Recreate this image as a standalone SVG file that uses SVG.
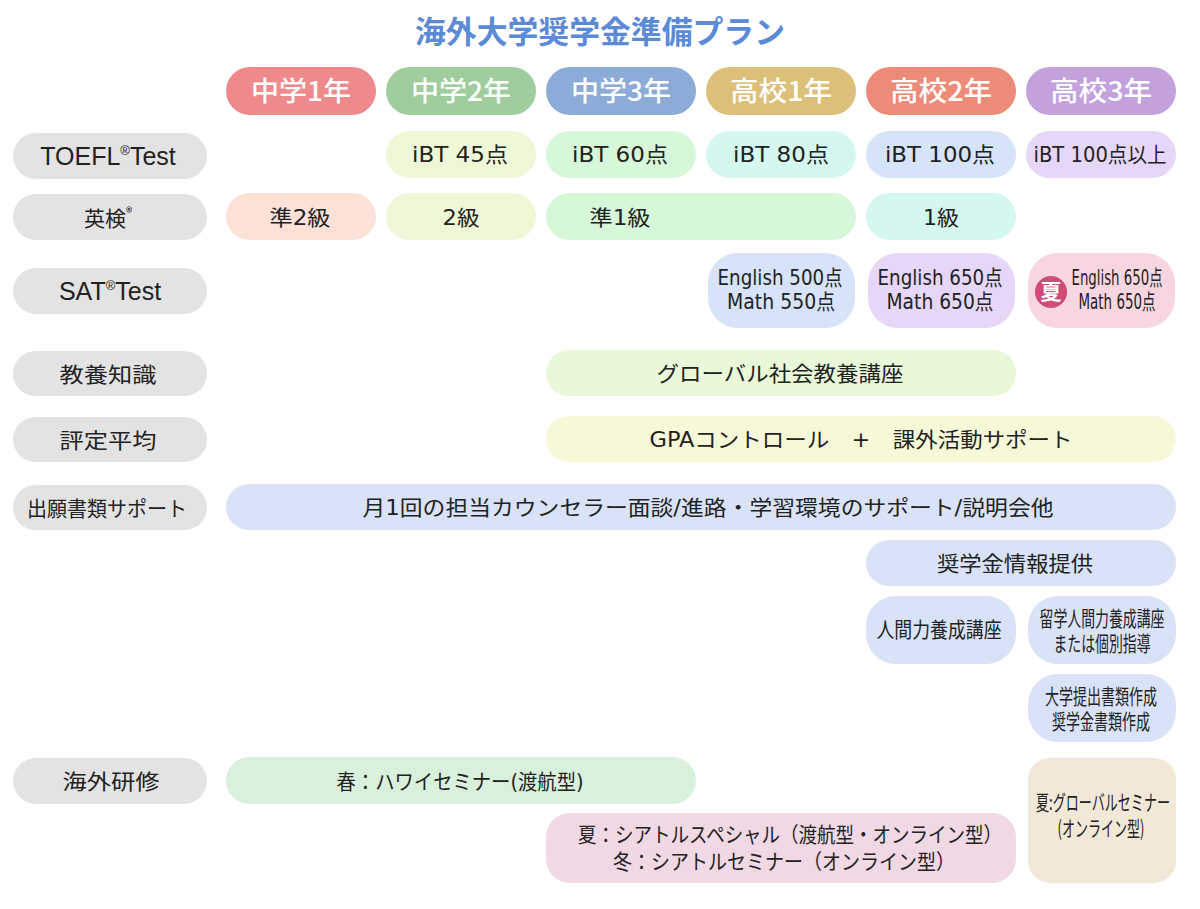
<svg xmlns="http://www.w3.org/2000/svg" width="1200" height="909" viewBox="0 0 1200 909">
<style>
text{font-family:"DejaVu Sans","Noto Sans CJK JP",sans-serif;fill:#222;text-anchor:middle;font-size:21px}
.jp{font-family:"Noto Sans CJK JP",sans-serif}
.lat{font-family:"Liberation Sans","Noto Sans CJK JP",sans-serif;font-size:25px}
.title{font-family:"Noto Sans CJK JP",sans-serif;font-size:31px;font-weight:bold;fill:#5b8ad6}
.hd{font-family:"Noto Sans CJK JP",sans-serif;fill:#fff;font-size:27px;font-weight:500}
.lbl{fill:#e3e3e3}
.sup{font-size:13px}
</style>
<rect width="1200" height="909" fill="#fff"/>
<text class="title" x="600" y="43" textLength="370" lengthAdjust="spacingAndGlyphs">海外大学奨学金準備プラン</text>

<g id="headers">
<g id="h1"><rect x="226" y="67" width="150" height="48" rx="24" fill="#ee8a8c"/><text class="hd" x="301" y="101" textLength="100" lengthAdjust="spacingAndGlyphs">中学1年</text></g>
<g id="h2"><rect x="386" y="67" width="150" height="48" rx="24" fill="#9fcd9e"/><text class="hd" x="461" y="101" textLength="100" lengthAdjust="spacingAndGlyphs">中学2年</text></g>
<g id="h3"><rect x="546" y="67" width="150" height="48" rx="24" fill="#8cabd6"/><text class="hd" x="621" y="101" textLength="100" lengthAdjust="spacingAndGlyphs">中学3年</text></g>
<g id="h4"><rect x="706" y="67" width="150" height="48" rx="24" fill="#dcbf79"/><text class="hd" x="781" y="101" textLength="102" lengthAdjust="spacingAndGlyphs">高校1年</text></g>
<g id="h5"><rect x="866" y="67" width="150" height="48" rx="24" fill="#ed8b79"/><text class="hd" x="941" y="101" textLength="102" lengthAdjust="spacingAndGlyphs">高校2年</text></g>
<g id="h6"><rect x="1026" y="67" width="150" height="48" rx="24" fill="#c2a1dc"/><text class="hd" x="1101" y="101" textLength="102" lengthAdjust="spacingAndGlyphs">高校3年</text></g>
</g>

<g id="labels">
<g id="l-toefl"><rect class="lbl" x="13" y="133" width="194" height="46" rx="23"/><text class="lat" x="108" y="165">TOEFL<tspan class="sup" dy="-10">®</tspan><tspan dy="10">Test</tspan></text></g>
<g id="l-eiken"><rect class="lbl" x="13" y="194" width="194" height="46" rx="23"/><text class="jp" x="108" y="226" font-size="24">英検<tspan class="sup" dy="-9">®</tspan></text></g>
<g id="l-sat"><rect class="lbl" x="13" y="268" width="194" height="46" rx="23"/><text class="lat" x="110" y="300">SAT<tspan class="sup" dy="-10">®</tspan><tspan dy="10">Test</tspan></text></g>
<g id="l-kyoyo"><rect class="lbl" x="13" y="351" width="194" height="45" rx="22.5"/><text class="jp" x="108" y="382" font-size="24" textLength="97" lengthAdjust="spacingAndGlyphs">教養知識</text></g>
<g id="l-hyotei"><rect class="lbl" x="13" y="417" width="194" height="45" rx="22.5"/><text class="jp" x="108" y="448" font-size="24" textLength="97" lengthAdjust="spacingAndGlyphs">評定平均</text></g>
<g id="l-shutsugan"><rect class="lbl" x="13" y="485" width="194" height="45" rx="22.5"/><text class="jp" x="107" y="516" font-size="22" textLength="160" lengthAdjust="spacingAndGlyphs">出願書類サポート</text></g>
<g id="l-kenshu"><rect class="lbl" x="13" y="758" width="194" height="46" rx="23"/><text class="jp" x="111" y="789" font-size="24" textLength="97" lengthAdjust="spacingAndGlyphs">海外研修</text></g>
</g>

<g id="toefl">
<g id="t2"><rect x="386" y="131" width="150" height="47" rx="23.5" fill="#eff8d6"/><text x="460" y="162" textLength="96" lengthAdjust="spacingAndGlyphs">iBT 45点</text></g>
<g id="t3"><rect x="546" y="131" width="150" height="47" rx="23.5" fill="#d6f8d8"/><text x="620" y="162" textLength="96" lengthAdjust="spacingAndGlyphs">iBT 60点</text></g>
<g id="t4"><rect x="706" y="131" width="150" height="47" rx="23.5" fill="#d4f8f0"/><text x="781" y="162" textLength="96" lengthAdjust="spacingAndGlyphs">iBT 80点</text></g>
<g id="t5"><rect x="866" y="131" width="150" height="47" rx="23.5" fill="#d6e4f8"/><text x="940" y="162" textLength="110" lengthAdjust="spacingAndGlyphs">iBT 100点</text></g>
<g id="t6"><rect x="1026" y="131" width="150" height="47" rx="23.5" fill="#e6d6f8"/><text x="1100" y="162" font-size="19" textLength="133" lengthAdjust="spacingAndGlyphs">iBT 100点以上</text></g>
</g>

<g id="eiken">
<g id="e1"><rect x="226" y="193" width="150" height="47" rx="23.5" fill="#fbe1d6"/><text x="300" y="225" textLength="61" lengthAdjust="spacingAndGlyphs">準2級</text></g>
<g id="e2"><rect x="386" y="193" width="150" height="47" rx="23.5" fill="#eff8d6"/><text x="461" y="225" textLength="37" lengthAdjust="spacingAndGlyphs">2級</text></g>
<g id="e3"><rect x="546" y="193" width="310" height="47" rx="23.5" fill="#d6f8d8"/><text x="620" y="225" textLength="61" lengthAdjust="spacingAndGlyphs">準1級</text></g>
<g id="e5"><rect x="866" y="193" width="150" height="47" rx="23.5" fill="#d4f8f0"/><text x="941" y="225" textLength="36" lengthAdjust="spacingAndGlyphs">1級</text></g>
</g>

<g id="sat">
<g id="s4"><rect x="708" y="253" width="147" height="75" rx="30" fill="#d6e3f8"/><text x="780" y="285" font-size="18" textLength="125" lengthAdjust="spacingAndGlyphs">English 500点</text><text x="781" y="309" font-size="18" textLength="108" lengthAdjust="spacingAndGlyphs">Math 550点</text></g>
<g id="s5"><rect x="868" y="253" width="147" height="75" rx="30" fill="#e6d6f8"/><text x="940" y="285" font-size="18" textLength="125" lengthAdjust="spacingAndGlyphs">English 650点</text><text x="940" y="309" font-size="18" textLength="107" lengthAdjust="spacingAndGlyphs">Math 650点</text></g>
<g id="s6"><rect x="1028" y="253" width="147" height="75" rx="30" fill="#f8d6e0"/><circle cx="1051" cy="292" r="16" fill="#d14b77"/><text class="jp" x="1051" y="299" font-size="19" font-weight="bold" style="fill:#fff">夏</text><text x="1117" y="285" font-size="15" textLength="91" lengthAdjust="spacingAndGlyphs">English 650点</text><text x="1117" y="309" font-size="15" textLength="77" lengthAdjust="spacingAndGlyphs">Math 650点</text></g>
</g>

<g id="kyoyo"><rect x="546" y="350" width="470" height="46" rx="23" fill="#e8f8d8"/><text class="jp" x="780" y="381" font-size="22" textLength="247" lengthAdjust="spacingAndGlyphs">グローバル社会教養講座</text></g>

<g id="hyotei"><rect x="546" y="416" width="630" height="46" rx="23" fill="#f6f8d8"/><text x="861" y="447" font-size="22" textLength="423" lengthAdjust="spacingAndGlyphs" xml:space="preserve">GPAコントロール　+　課外活動サポート</text></g>

<g id="support"><rect x="226" y="484" width="950" height="46" rx="23" fill="#d9e2f6"/><text x="708" y="515" font-size="22" textLength="691" lengthAdjust="spacingAndGlyphs">月1回の担当カウンセラー面談/進路・学習環境のサポート/説明会他</text></g>

<g id="scholarship"><rect x="866" y="540" width="310" height="46" rx="23" fill="#d9e2f6"/><text class="jp" x="1015" y="571" font-size="22" textLength="156" lengthAdjust="spacingAndGlyphs">奨学金情報提供</text></g>

<g id="ningen"><rect x="866" y="596" width="150" height="68" rx="30" fill="#d9e2f6"/><text class="jp" x="939" y="637" font-size="18" textLength="125" lengthAdjust="spacingAndGlyphs">人間力養成講座</text></g>

<g id="ryugaku"><rect x="1028" y="596" width="148" height="68" rx="30" fill="#d9e2f6"/><text class="jp" x="1102" y="626" font-size="16" textLength="125" lengthAdjust="spacingAndGlyphs">留学人間力養成講座</text><text class="jp" x="1102" y="651" font-size="16" textLength="97" lengthAdjust="spacingAndGlyphs">または個別指導</text></g>

<g id="shorui"><rect x="1028" y="674" width="148" height="68" rx="30" fill="#d9e2f6"/><text class="jp" x="1101" y="704" font-size="16" textLength="112" lengthAdjust="spacingAndGlyphs">大学提出書類作成</text><text class="jp" x="1101" y="729" font-size="16" textLength="98" lengthAdjust="spacingAndGlyphs">奨学金書類作成</text></g>

<g id="hawaii"><rect x="226" y="757" width="470" height="47" rx="23.5" fill="#d9f0dc"/><text x="460" y="789" font-size="20" textLength="247" lengthAdjust="spacingAndGlyphs">春：ハワイセミナー(渡航型)</text></g>

<g id="seattle"><rect x="546" y="813" width="470" height="70" rx="24" fill="#f0d8e5"/><text class="jp" x="790" y="842" font-size="21" textLength="424" lengthAdjust="spacingAndGlyphs">夏：シアトルスペシャル（渡航型・オンライン型）</text><text class="jp" x="784" y="869" font-size="21" textLength="342" lengthAdjust="spacingAndGlyphs">冬：シアトルセミナー（オンライン型）</text></g>

<g id="global"><rect x="1028" y="758" width="148" height="125" rx="22" fill="#f1e8d8"/><text class="jp" x="1103" y="810" font-size="16" textLength="134" lengthAdjust="spacingAndGlyphs">夏:グローバルセミナー</text><text class="jp" x="1101" y="836" font-size="16" textLength="87" lengthAdjust="spacingAndGlyphs">(オンライン型)</text></g>

<g id="connectors"/>
</svg>
